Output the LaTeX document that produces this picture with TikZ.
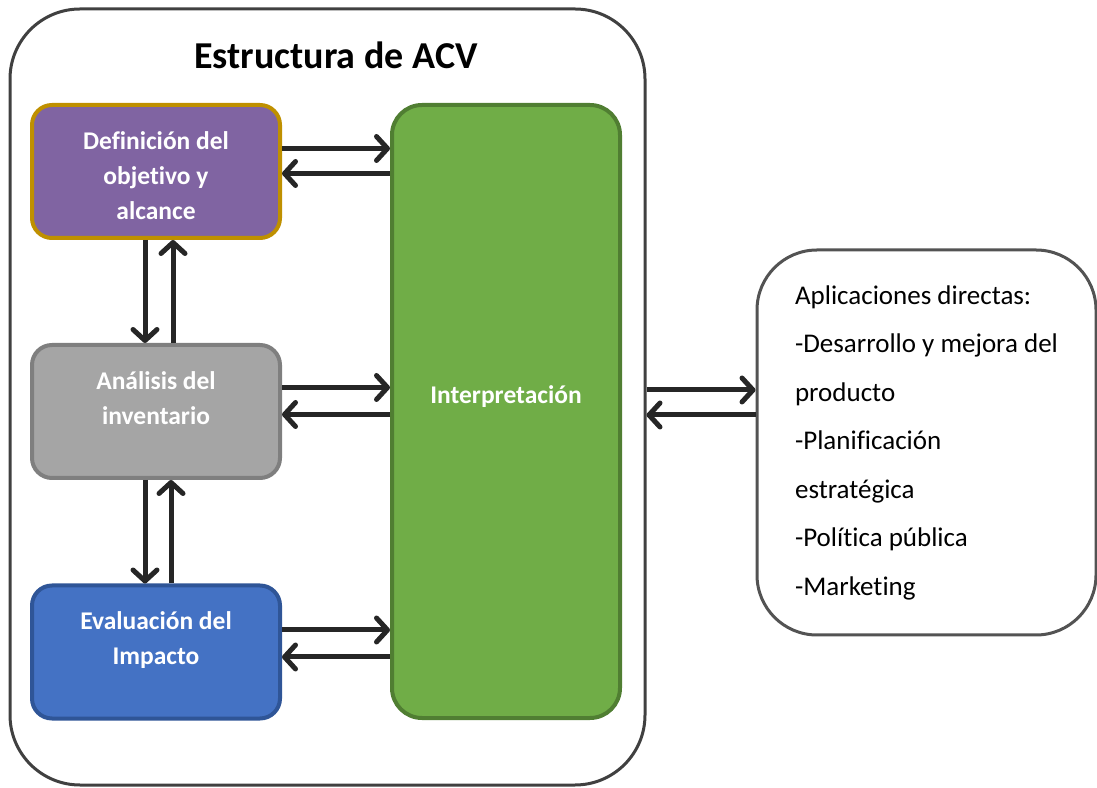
\documentclass[tikz,border=0pt]{standalone}
\usepackage{fontspec}
\setmainfont{Carlito}[Ligatures=NoCommon]
\usetikzlibrary{arrows.meta}

\definecolor{morado}{HTML}{8064A2}
\definecolor{oro}{HTML}{BF9000}
\definecolor{grisclaro}{HTML}{A5A5A5}
\definecolor{grisborde}{HTML}{7F7F7F}
\definecolor{azul}{HTML}{4472C4}
\definecolor{azulborde}{HTML}{2F5597}
\definecolor{verde}{HTML}{70AD47}
\definecolor{verdeborde}{HTML}{507E32}
\definecolor{marcogris}{HTML}{404040}
\definecolor{flechagris}{HTML}{262626}

\begin{document}
\begin{tikzpicture}[x=1pt, y=1pt,
  caja/.style={draw, line width=4pt, rounded corners=20pt, minimum width=248pt, minimum height=133pt},
  texto/.style={text=white, align=center, font=\fontsize{25.5}{35}\selectfont\bfseries},
  flecha/.style={draw=flechagris, line width=5pt, -{Straight Barb[length=11pt, width=24pt, round]}}]
\useasboundingbox (0,0) rectangle (1097,787);
% Define nodes
\path (327.5,390)
node[draw=marcogris, line width=3pt, rounded corners=70pt, minimum width=635pt, minimum height=776pt] (marco) {}
(336,732) node[font=\fontsize{38}{44}\selectfont\bfseries] (titulo) {Estructura de ACV}
(156,615.5) node[caja, draw=oro, fill=morado] (def) {}
(156,375.5) node[caja, draw=grisborde, fill=grisclaro] (anal) {}
(156,135) node[caja, draw=azulborde, fill=azul] (eval) {}
(506,375.5) node[caja, draw=verdeborde, fill=verde, rounded corners=30pt, minimum width=228pt, minimum height=613pt] (interp) {}
(926.5,344.5) node[draw=gray!65!black, line width=3pt, rounded corners=60pt, minimum width=339pt, minimum height=385pt, align=left, font=\fontsize{27}{48.5}\selectfont] (aplic)
{Aplicaciones directas:\\-Desarrollo y mejora del\\producto\\-Planificación\\estratégica\\-Política pública\\-Marketing}
;

\draw[flecha] ([yshift=23pt]def.east) -- ([yshift=23pt]def.east -| interp.west);
\draw[flecha] ([yshift=-2pt]def.east -| interp.west) -- ([yshift=-2pt]def.east);
\draw[flecha] ([yshift=24pt]anal.east) -- ([yshift=24pt]anal.east -| interp.west);
\draw[flecha] ([yshift=-3pt]anal.east -| interp.west) -- ([yshift=-3pt]anal.east);
\draw[flecha] ([yshift=22pt]eval.east) -- ([yshift=22pt]eval.east -| interp.west);
\draw[flecha] ([yshift=-5pt]eval.east -| interp.west) -- ([yshift=-5pt]eval.east);

\draw[flecha] ([xshift=-11pt]def.south) -- ([xshift=-11pt]anal.north);
\draw[flecha] ([xshift=17pt]anal.north) -- ([xshift=17pt]def.south);
\draw[flecha] ([xshift=-11pt]anal.south) -- ([xshift=-11pt]eval.north);
\draw[flecha] ([xshift=15pt]eval.north) -- ([xshift=15pt]anal.south);

\draw[flecha] ([yshift=7pt]marco.east) -- ([yshift=7pt]marco.east -| aplic.west);
\draw[flecha] ([yshift=-18pt]marco.east -| aplic.west) -- ([yshift=-18pt]marco.east);

\path[every node/.style={texto}]
(def) +(0,-4.5) node {Definición del\\objetivo y\\alcance}
(anal) +(0,13.5) node {Análisis del\\inventario}
(eval) +(0,12) node {Evaluación del\\Impacto}
(interp) +(0,14.5) node {Interpretación}
;

\end{tikzpicture}
\end{document}
